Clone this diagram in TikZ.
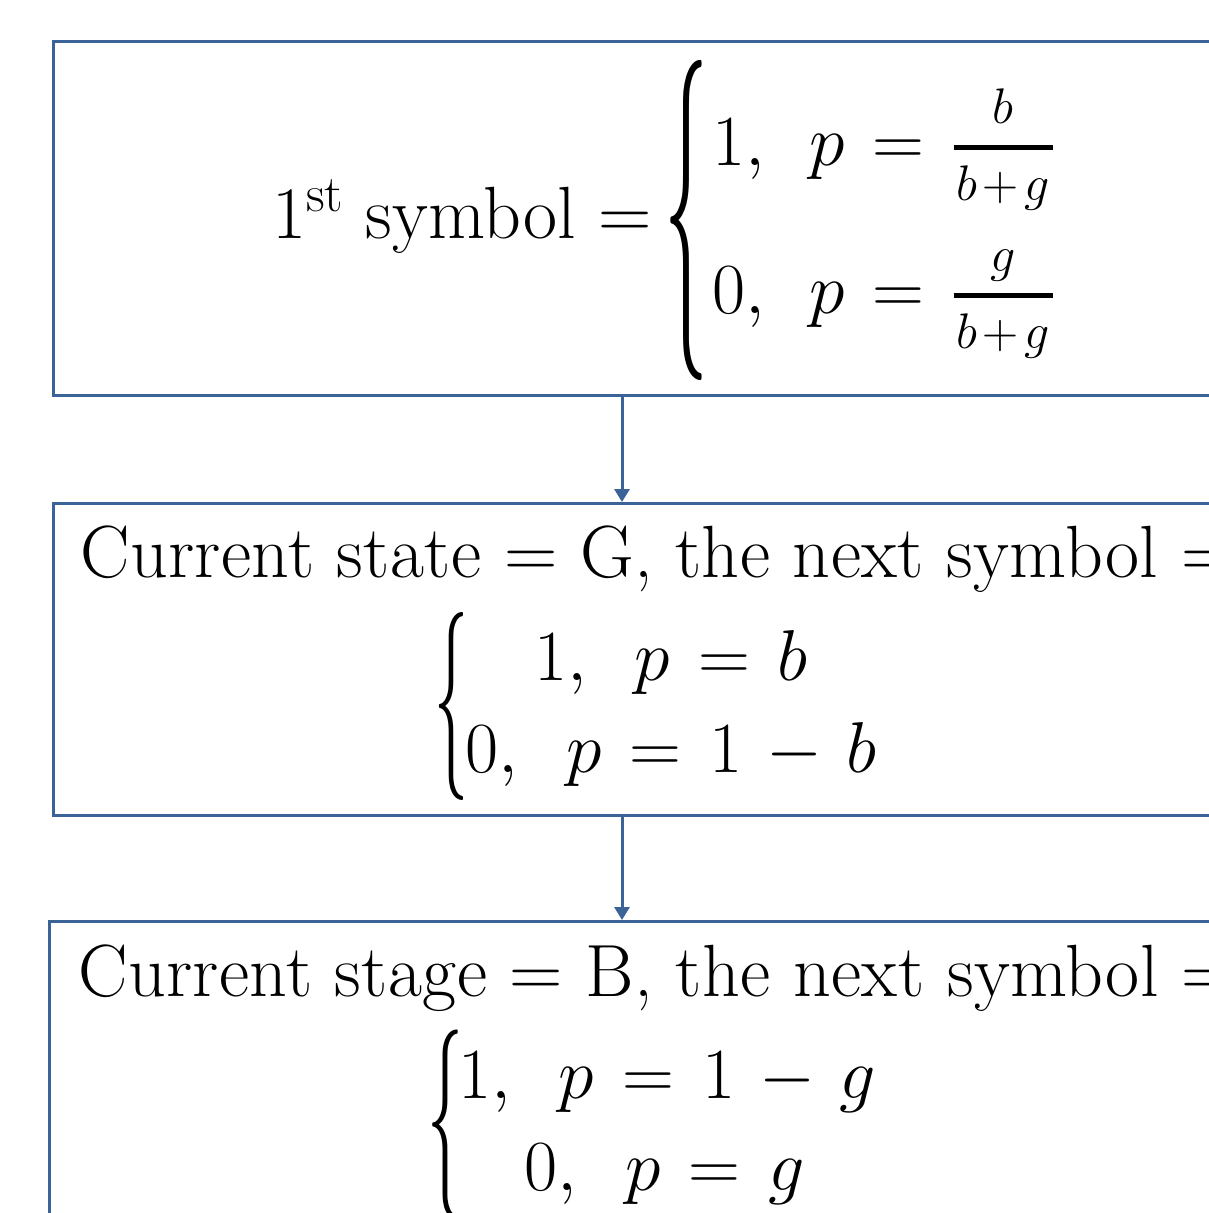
\documentclass[tikz,border=0pt]{standalone}
\usepackage{fix-cm}
\usepackage{amsmath}
\usepackage{graphicx}
\usepackage{fontspec}
\newfontfamily\labelfont{Latin Modern Roman}[LetterSpace=0.5]
\usetikzlibrary{arrows.meta}
\definecolor{boxblue}{RGB}{58,99,152}
\newcommand{\mset}{\thickmuskip=7mu plus 2mu\relax\medmuskip=6mu plus 2mu\relax}
\newcommand{\fnum}[1]{\hbox{\fontsize{50}{56}\selectfont$#1$\rule[-16pt]{0pt}{16pt}}}
\newcommand{\fden}[1]{\hbox{\fontsize{50}{56}\selectfont\kern3pt$#1$\kern3pt\rule{0pt}{46pt}}}
\newcommand{\bfrac}[2]{{\fnum{#1}\above 5pt\fden{#2}}}
\begin{document}
\begin{tikzpicture}[x=1pt,y=-1pt,
  frame/.style={draw=boxblue, line width=3pt, rectangle, inner sep=0pt, anchor=north west},
  arr/.style={draw=boxblue, line width=3pt, -{Triangle[length=13pt,width=15pt]}},
  txt/.style={inner sep=0pt, anchor=base west, font=\fontsize{74}{88}\labelfont},
  mth/.style={inner sep=0pt, font=\fontsize{72}{86}\selectfont},
  brc/.style={inner sep=0pt, anchor=north west, font=\fontsize{70}{84}\selectfont}]
\useasboundingbox (0,0) rectangle (1209,1213);
\clip (0,0) rectangle (1209,1213);
\fill[white] (0,0) rectangle (1209,1213);
\node[frame, minimum width=1300pt, minimum height=354pt] (box1) at (52,40) {};
\node[frame, minimum width=1300pt, minimum height=312pt] (box2) at (52,502) {};
\node[frame, minimum width=1300pt, minimum height=420pt] (box3) at (48,920) {};
\coordinate (ax) at (622,0);
\draw[arr] (box1.south -| ax) -- (box2.north -| ax);
\draw[arr] (box2.south -| ax) -- (box3.north -| ax);
\node[txt, font=\fontsize{74}{88}\selectfont] (t1) at (272,238) {1\textsuperscript{st} symbol =};
\node[txt] (t2) at (80,577) {Current state = G, the next symbol =};
\node[txt] (t3) at (78,996) {Current stage = B, the next symbol =};
% box 1
\node[brc] (b1) at (664,60) {\resizebox*{44pt}{320pt}{\{}};
\node[mth, anchor=base west] (r11) at (712,165) {$\mset 1,\hspace{0.45em}p=\bfrac{b}{b\mkern2mu{+}\mkern2mu g}$};
\node[mth, anchor=base west] (r12) at (712,313) {$\mset 0,\hspace{0.45em}p=\bfrac{g}{b\mkern2mu{+}\mkern2mu g}$};
% box 2
\node[brc] (b2) at (434,612) {\resizebox*{34pt}{188pt}{\{}};
\node[mth, anchor=base] (r21) at (671,680) {$\mset 1,\hspace{0.5em}p=b$};
\node[mth, anchor=base] (r22) at (671,772) {$\mset 0,\hspace{0.5em}p=1-b$};
% box 3
\node[brc] (b3) at (427,1030) {\resizebox*{36pt}{190pt}{\{}};
\node[mth, anchor=base] (r31) at (667,1098) {$\mset 1,\hspace{0.5em}p=1-g$};
\node[mth, anchor=base] (r32) at (665,1190) {$\mset 0,\hspace{0.5em}p=g$};
\end{tikzpicture}
\end{document}
